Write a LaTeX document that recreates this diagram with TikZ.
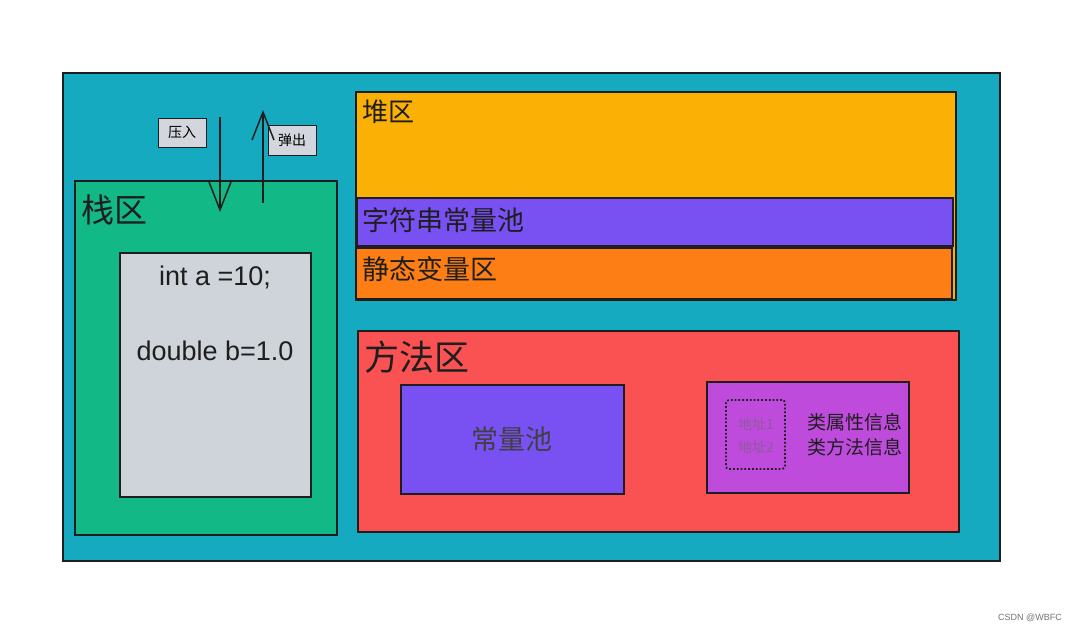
\documentclass[tikz,border=0pt]{standalone}
\usepackage{fontspec}
\setmainfont{Liberation Sans}
\newfontfamily\cjk{Noto Sans CJK SC}
\usetikzlibrary{arrows.meta, positioning, calc}

\definecolor{outerbg}{HTML}{15AABF}
\definecolor{stackbg}{HTML}{12B886}
\definecolor{varbg}{HTML}{CED4DA}
\definecolor{tagbg}{HTML}{D3D6DC}
\definecolor{heapbg}{HTML}{FAB005}
\definecolor{poolbg}{HTML}{7950F2}
\definecolor{staticbg}{HTML}{FD7E14}
\definecolor{methodbg}{HTML}{FA5252}
\definecolor{classbg}{HTML}{BE4BDB}
\definecolor{addrtxt}{HTML}{8E5A9E}
\definecolor{ink}{HTML}{1E1E1E}

\begin{document}
\begin{tikzpicture}[x=1pt, y=-1pt,
        area/.style={draw=ink, line width=1.1pt, inner sep=0pt, outer sep=0pt, anchor=north west},
        tag/.style={area, fill=tagbg, line width=1pt, font=\cjk\fontsize{14}{14}\selectfont},
        title/.style={inner sep=0pt, anchor=west, text=ink},
        code/.style={inner sep=0pt, text=ink, font=\fontsize{27}{27}\selectfont},
        arr/.style={-{Straight Barb[length=28pt, width=22pt]}, line width=1.5pt, draw=ink}
    ]
    \fill[white] (0,0) rectangle (1073,632);
    \useasboundingbox (0,0) rectangle (1073,632);

    % outer frame
    \node[area, fill=outerbg, minimum width=937pt, minimum height=488pt] (jvm) at (63,73) {};

    % stack
    \node[area, fill=stackbg, minimum width=262pt, minimum height=354pt] (stack) at (75,181) {};
    \node[title, font=\cjk\fontsize{33}{33}\selectfont] (stacklbl) at (81,210) {栈区};
    \node[area, fill=varbg, minimum width=191pt, minimum height=244pt] (vars) at (120,253) {};
    \node[code] (inta) at (215,277) {int a =10;};
    \node[code] (dblb) at (215,351) {double b=1.0};

    % push / pop
    \node[tag, minimum width=48pt, minimum height=29pt] (push) at (158,118) {压入};
    \node[tag, minimum width=48pt, minimum height=30pt] (pop) at (268,125) {弹出};
    \coordinate (pushstart) at (220,117);
    \coordinate (pushend) at (220,212);
    \coordinate (popstart) at (263,203);
    \coordinate (popend) at (263,110);
    \draw[arr] (pushstart) -- (pushend);
    \draw[arr] (popstart) -- (popend);

    % heap
    \node[area, fill=heapbg, minimum width=600pt, minimum height=208pt] (heap) at (356,92) {};
    \node[title, font=\cjk\fontsize{26}{26}\selectfont] (heaplbl) at (362,112) {堆区};
    \node[area, fill=poolbg, minimum width=596pt, minimum height=48pt] (strpool) at (357,198) {};
    \node[title, font=\cjk\fontsize{27}{27}\selectfont] (strpoollbl) at (362,220) {字符串常量池};
    \node[area, fill=staticbg, minimum width=596pt, minimum height=51pt] (static) at (356,248) {};
    \node[title, font=\cjk\fontsize{27}{27}\selectfont] (staticlbl) at (362,269) {静态变量区};

    % method area
    \node[area, fill=methodbg, minimum width=601pt, minimum height=201pt] (method) at (358,331) {};
    \node[title, font=\cjk\fontsize{35}{35}\selectfont] (methodlbl) at (364,357) {方法区};
    \node[area, fill=poolbg, minimum width=223pt, minimum height=109pt] (cpool) at (401,385) {};
    \node[code, font=\cjk\fontsize{27}{27}\selectfont, text=ink!85] (cpoollbl) at (512,439) {常量池};
    \node[area, fill=classbg, minimum width=202pt, minimum height=111pt] (classinfo) at (707,382) {};
    \node[area, draw=ink, line width=1.8pt, dotted, rounded corners=3pt, minimum width=59pt, minimum height=69pt] (addr) at (726,400) {};
    \node[inner sep=0pt, align=center, text=addrtxt, font=\cjk\fontsize{14}{23}\selectfont] (addrlbl) at (756,436) {地址1\\地址2};
    \node[inner sep=0pt, align=left, text=ink, font=\cjk\fontsize{19}{25}\selectfont] (classlbl) at (855,435) {类属性信息\\类方法信息};

    % watermark
    \node[inner sep=0pt, text=black!55, font=\fontsize{9}{9}\selectfont] (mark) at (1030,618) {CSDN @WBFC};
\end{tikzpicture}
\end{document}
